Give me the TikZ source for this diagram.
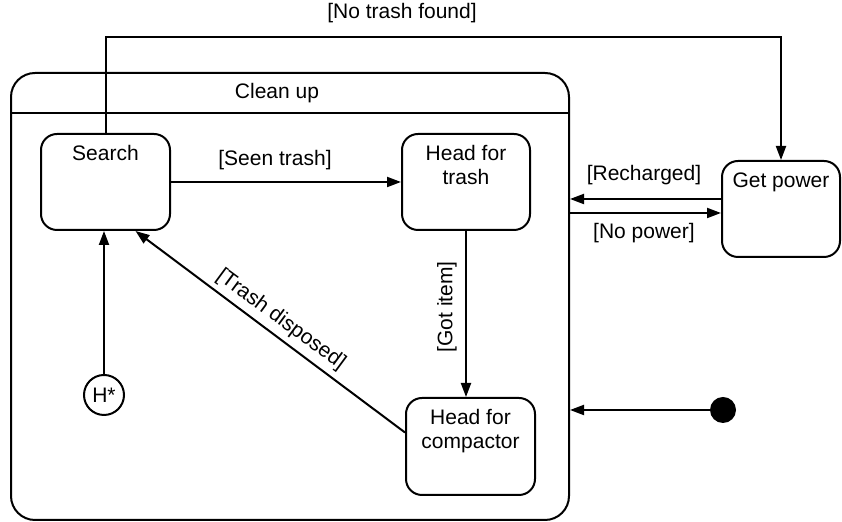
\documentclass[tikz,border=0pt]{standalone}
\usepackage{fontspec}
\setmainfont{Liberation Sans}
\usetikzlibrary{arrows.meta}
\begin{document}
\begin{tikzpicture}[x=0.5pt,y=-0.5pt,
  every node/.style={font=\fontsize{10.5}{12}\selectfont},
  statebox/.style={draw, line width=1pt, rounded corners=8pt, inner sep=0pt},
  lbl/.style={inner sep=0pt, align=center},
  ln/.style={line width=1pt},
  arr/.style={line width=1pt, -{Triangle[length=7pt,width=5pt]}}]
\useasboundingbox (0,0) rectangle (842,522);

% composite state
\node[statebox, rounded corners=12pt, minimum width=279pt, minimum height=223.5pt] (cleanup) at (290,296.5) {};
\draw[ln] ([yshift=-20.5pt]cleanup.north west) -- ([yshift=-20.5pt]cleanup.north east);
\node[lbl] (cleanuplbl) at (277,93) {Clean up};

% states
\node[statebox, minimum width=64.5pt, minimum height=48pt] (search) at (105.5,182) {};
\node[lbl, anchor=north] (searchlbl) at ([yshift=-6pt]search.north) {Search};

\node[statebox, minimum width=64pt, minimum height=48pt] (trash) at (466,182) {};
\node[lbl, anchor=north] (trashlbl) at ([yshift=-6pt]trash.north) {Head for\\trash};

\node[statebox, minimum width=64.5pt, minimum height=48.5pt] (compactor) at (470.5,446.5) {};
\node[lbl, anchor=north] (compactorlbl) at ([yshift=-6pt]compactor.north) {Head for\\compactor};

\node[statebox, minimum width=59pt, minimum height=48pt] (power) at (781,209) {};
\node[lbl, anchor=north] (powerlbl) at ([yshift=-6pt]power.north) {Get power};

\node[draw, ln, circle, inner sep=0pt, minimum size=20pt] (hstar) at (104,395) {H*};
\node[circle, fill=black, inner sep=0pt, minimum size=13pt] (init) at (723,410) {};

% helper coordinates
\coordinate (pwA) at ([yshift=5pt]power.west);
\coordinate (pwB) at ([yshift=-2pt]power.west);
\coordinate (topleft) at (search.north |- 0,37);

% transitions
\draw[arr] (search.east) -- (trash.west);
\node[lbl] (seenlbl) at (275,160) {[Seen trash]};

\draw[arr] (trash.south) -- (trash.south |- compactor.north);
\node[lbl, rotate=90] (gotlbl) at (447,307) {[Got item]};

\draw[arr] ([yshift=7pt]compactor.west) -- ([xshift=15pt]search.south);
\node[lbl, rotate=-36.4] (disposedlbl) at (281,320) {[Trash disposed]};

\draw[arr] (hstar.north) -- (hstar.north |- search.south);

\draw[arr] (pwA) -- (cleanup.east |- pwA);
\node[lbl] (rechargedlbl) at (644,175) {[Recharged]};

\draw[arr] (cleanup.east |- pwB) -- (pwB);
\node[lbl] (nopowerlbl) at (644,233) {[No power]};

\draw[arr] (init.west) -- (cleanup.east |- init.west);

\draw[arr] (search.north) -- (topleft) -| (power.north);
\node[lbl] (notrashlbl) at (402,13) {[No trash found]};
\end{tikzpicture}
\end{document}
